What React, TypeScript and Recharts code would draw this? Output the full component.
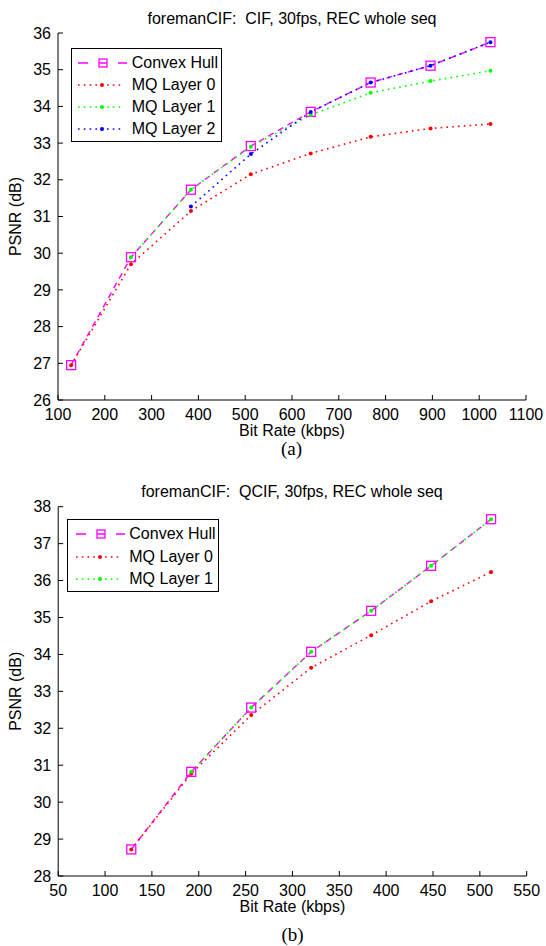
import React from 'react';
import { LineChart, Line, XAxis, YAxis, Legend } from 'recharts';

// ---------- data ----------
const cifRates = [128, 256, 384, 512, 640, 768, 896, 1024];
const cifHull = [26.95, 29.89, 31.73, 32.92, 33.85, 34.65, 35.11, 35.75];
const cifLayer0 = [26.95, 29.7, 31.15, 32.15, 32.72, 33.17, 33.4, 33.52];
const cifLayer1 = [null, 29.89, 31.73, 32.9, 33.77, 34.37, 34.69, 34.97];
const cifLayer2 = [null, null, 31.27, 32.7, 33.85, 34.65, 35.11, 35.75];
const cifTicksX = [100, 200, 300, 400, 500, 600, 700, 800, 900, 1000, 1100];
const cifTicksY = [26, 27, 28, 29, 30, 31, 32, 33, 34, 35, 36];

const qcifRates = [128, 192, 256, 320, 384, 448, 512];
const qcifHull = [28.72, 30.82, 32.56, 34.07, 35.18, 36.4, 37.66];
const qcifLayer0 = [28.72, 30.77, 32.36, 33.64, 34.52, 35.44, 36.23];
const qcifLayer1 = [null, 30.82, 32.56, 34.07, 35.18, 36.4, 37.66];
const qcifTicksX = [50, 100, 150, 200, 250, 300, 350, 400, 450, 500, 550];
const qcifTicksY = [28, 29, 30, 31, 32, 33, 34, 35, 36, 37, 38];

const cifTitle = 'foremanCIF:  CIF, 30fps, REC whole seq';
const qcifTitle = 'foremanCIF:  QCIF, 30fps, REC whole seq';
const xLabel = 'Bit Rate (kbps)';
const yLabel = 'PSNR (dB)';

// ---------- styles ----------
const FONT = "'Liberation Sans', Arial, Helvetica, sans-serif";
const SERIF = "'Liberation Serif', 'Times New Roman', serif";
const MAGENTA = '#ff00ff';
const RED = '#ff0000';
const GREEN = '#00ff00';
const BLUE = '#0000ff';

type SeriesDef = { key: string; name: string; color: string; kind: 'hull' | 'dot' };

const cifSeries: SeriesDef[] = [
  { key: 'hull', name: 'Convex Hull', color: MAGENTA, kind: 'hull' },
  { key: 'l0', name: 'MQ Layer 0', color: RED, kind: 'dot' },
  { key: 'l1', name: 'MQ Layer 1', color: GREEN, kind: 'dot' },
  { key: 'l2', name: 'MQ Layer 2', color: BLUE, kind: 'dot' },
];
const qcifSeries: SeriesDef[] = [
  { key: 'hull', name: 'Convex Hull', color: MAGENTA, kind: 'hull' },
  { key: 'l0', name: 'MQ Layer 0', color: RED, kind: 'dot' },
  { key: 'l1', name: 'MQ Layer 1', color: GREEN, kind: 'dot' },
];

function buildRows(rates: number[], cols: Record<string, (number | null)[]>) {
  return rates.map((r, i) => {
    const row: Record<string, number | null> = { rate: r };
    Object.keys(cols).forEach((k) => {
      row[k] = cols[k][i];
    });
    return row;
  });
}

const cifRows = buildRows(cifRates, { hull: cifHull, l0: cifLayer0, l1: cifLayer1, l2: cifLayer2 });
const qcifRows = buildRows(qcifRates, { hull: qcifHull, l0: qcifLayer0, l1: qcifLayer1 });

const squareDot = (color: string) => (props: any) => {
  const { cx, cy, index } = props;
  if (cx == null || cy == null || isNaN(cx) || isNaN(cy)) return <g key={`sq-${index}`} />;
  return (
    <rect
      key={`sq-${index}`}
      x={cx - 4.5}
      y={cy - 4.5}
      width={9}
      height={9}
      fill="none"
      stroke={color}
      strokeWidth={1.3}
    />
  );
};

const pointDot = (color: string) => (props: any) => {
  const { cx, cy, index } = props;
  if (cx == null || cy == null || isNaN(cx) || isNaN(cy)) return <g key={`pt-${index}`} />;
  return <circle key={`pt-${index}`} cx={cx} cy={cy} r={2} fill={color} stroke="none" />;
};

const LegendSymbol = ({ s }: { s: SeriesDef }) => {
  if (s.kind === 'hull') {
    return (
      <svg width={50} height={20} style={{ display: 'block' }}>
        <line x1={0} y1={10} x2={49} y2={10} stroke={s.color} strokeWidth={1.5} strokeDasharray="10 11 8 11 10" />
        <rect x={21} y={6} width={8} height={8} fill="none" stroke={s.color} strokeWidth={1.3} />
      </svg>
    );
  }
  return (
    <svg width={50} height={20} style={{ display: 'block' }}>
      <line x1={0} y1={10} x2={46} y2={10} stroke={s.color} strokeWidth={1.6} strokeDasharray="1.6 4.2" />
      <circle cx={24} cy={10} r={2} fill={s.color} />
    </svg>
  );
};

const LegendBox = ({
  series,
  width,
  height,
  rowTop,
  rowGap,
  symLeft,
  textLeft,
}: {
  series: SeriesDef[];
  width: number;
  height: number;
  rowTop: number;
  rowGap: number;
  symLeft: number;
  textLeft: number;
}) => (
  <div
    style={{
      width,
      height,
      border: '1.3px solid #000',
      background: '#fff',
      boxSizing: 'border-box',
      position: 'relative',
      fontFamily: FONT,
      fontSize: 16,
      color: '#000',
    }}
  >
    {series.map((s, i) => (
      <div
        key={s.key}
        style={{
          position: 'absolute',
          top: rowTop + i * rowGap - 10,
          left: symLeft,
          height: 20,
          display: 'flex',
          alignItems: 'center',
          whiteSpace: 'nowrap',
        }}
      >
        <LegendSymbol s={s} />
        <span style={{ marginLeft: textLeft - symLeft - 50, lineHeight: '20px' }}>{s.name}</span>
      </div>
    ))}
  </div>
);

const axisTick = { fill: '#000', fontSize: 16, fontFamily: FONT };

function renderLines(series: SeriesDef[]) {
  return series.map((s) =>
    s.kind === 'hull' ? (
      <Line
        key={s.key}
        type="linear"
        dataKey={s.key}
        name={s.name}
        stroke={s.color}
        strokeWidth={1.4}
        strokeDasharray="6 5"
        dot={squareDot(s.color)}
        activeDot={false}
        connectNulls={false}
        isAnimationActive={false}
      />
    ) : (
      <Line
        key={s.key}
        type="linear"
        dataKey={s.key}
        name={s.name}
        stroke={s.color}
        strokeWidth={1.6}
        strokeDasharray="1.6 4.2"
        dot={pointDot(s.color)}
        activeDot={false}
        connectNulls={false}
        isAnimationActive={false}
      />
    )
  );
}

export default function App() {
  return (
    <div style={{ position: 'absolute', left: 0, top: 0, width: 546, height: 946, background: '#fff' }}>
      {/* Top chart (a) */}
      <div style={{ position: 'absolute', left: 0, top: 0 }}>
        <LineChart width={546} height={440} data={cifRows} margin={{ top: 33, right: 20, bottom: 0, left: 0 }}>
          <XAxis
            type="number"
            dataKey="rate"
            domain={[100, 1100]}
            ticks={cifTicksX}
            interval={0}
            allowDataOverflow
            height={40}
            tickSize={-5}
            tickMargin={14}
            tick={axisTick}
            stroke="#000"
            axisLine={{ stroke: '#000', strokeWidth: 1 }}
            tickLine={{ stroke: '#000' }}
            label={{ value: xLabel, position: 'insideBottom', offset: 4, fill: '#000', fontSize: 16, fontFamily: FONT }}
          />
          <YAxis
            type="number"
            domain={[26, 36]}
            ticks={cifTicksY}
            interval={0}
            allowDataOverflow
            width={58}
            tickSize={-5}
            tickMargin={12}
            tick={axisTick}
            stroke="#000"
            axisLine={{ stroke: '#000', strokeWidth: 1 }}
            tickLine={{ stroke: '#000' }}
          />
          <Legend
            layout="vertical"
            align="center"
            verticalAlign="middle"
            wrapperStyle={{ left: 70.7, top: 47.7, width: 151, height: 94 }}
            content={() => (
              <LegendBox series={cifSeries} width={151} height={94} rowTop={14} rowGap={22.2} symLeft={6} textLeft={60} />
            )}
          />
          {renderLines(cifSeries)}
        </LineChart>
      </div>

      {/* Bottom chart (b) */}
      <div style={{ position: 'absolute', left: 0, top: 470 }}>
        <LineChart width={546} height={446} data={qcifRows} margin={{ top: 36.7, right: 19.3, bottom: 0, left: 0.2 }}>
          <XAxis
            type="number"
            dataKey="rate"
            domain={[50, 550]}
            ticks={qcifTicksX}
            interval={0}
            allowDataOverflow
            height={40}
            tickSize={-5}
            tickMargin={14}
            tick={axisTick}
            stroke="#000"
            axisLine={{ stroke: '#000', strokeWidth: 1 }}
            tickLine={{ stroke: '#000' }}
            label={{ value: xLabel, position: 'insideBottom', offset: 4, fill: '#000', fontSize: 16, fontFamily: FONT }}
          />
          <YAxis
            type="number"
            domain={[28, 38]}
            ticks={qcifTicksY}
            interval={0}
            allowDataOverflow
            width={58}
            tickSize={-5}
            tickMargin={12}
            tick={axisTick}
            stroke="#000"
            axisLine={{ stroke: '#000', strokeWidth: 1 }}
            tickLine={{ stroke: '#000' }}
          />
          <Legend
            layout="vertical"
            align="center"
            verticalAlign="middle"
            wrapperStyle={{ left: 67.3, top: 49.3, width: 152, height: 72.4 }}
            content={() => (
              <LegendBox series={qcifSeries} width={152} height={72.4} rowTop={14} rowGap={22.5} symLeft={7.7} textLeft={61} />
            )}
          />
          {renderLines(qcifSeries)}
        </LineChart>
      </div>

      {/* Titles, panel captions and y-axis labels */}
      <svg
        width={546}
        height={946}
        style={{ position: 'absolute', left: 0, top: 0, pointerEvents: 'none' }}
      >
        <text x={292} y={23.5} textAnchor="middle" fontFamily={FONT} fontSize={16} fill="#000" style={{ whiteSpace: 'pre' }}>
          {cifTitle}
        </text>
        <text x={292} y={497} textAnchor="middle" fontFamily={FONT} fontSize={16} fill="#000" style={{ whiteSpace: 'pre' }}>
          {qcifTitle}
        </text>
        <text
          x={21}
          y={216.5}
          textAnchor="middle"
          fontFamily={FONT}
          fontSize={16}
          fill="#000"
          transform="rotate(-90 21 216.5)"
        >
          {yLabel}
        </text>
        <text
          x={21}
          y={691.3}
          textAnchor="middle"
          fontFamily={FONT}
          fontSize={16}
          fill="#000"
          transform="rotate(-90 21 691.3)"
        >
          {yLabel}
        </text>
        <text x={291.5} y={454.5} textAnchor="middle" fontFamily={SERIF} fontSize={19} fill="#000">
          (a)
        </text>
        <text x={292.5} y={941} textAnchor="middle" fontFamily={SERIF} fontSize={19} fill="#000">
          (b)
        </text>
      </svg>
    </div>
  );
}
